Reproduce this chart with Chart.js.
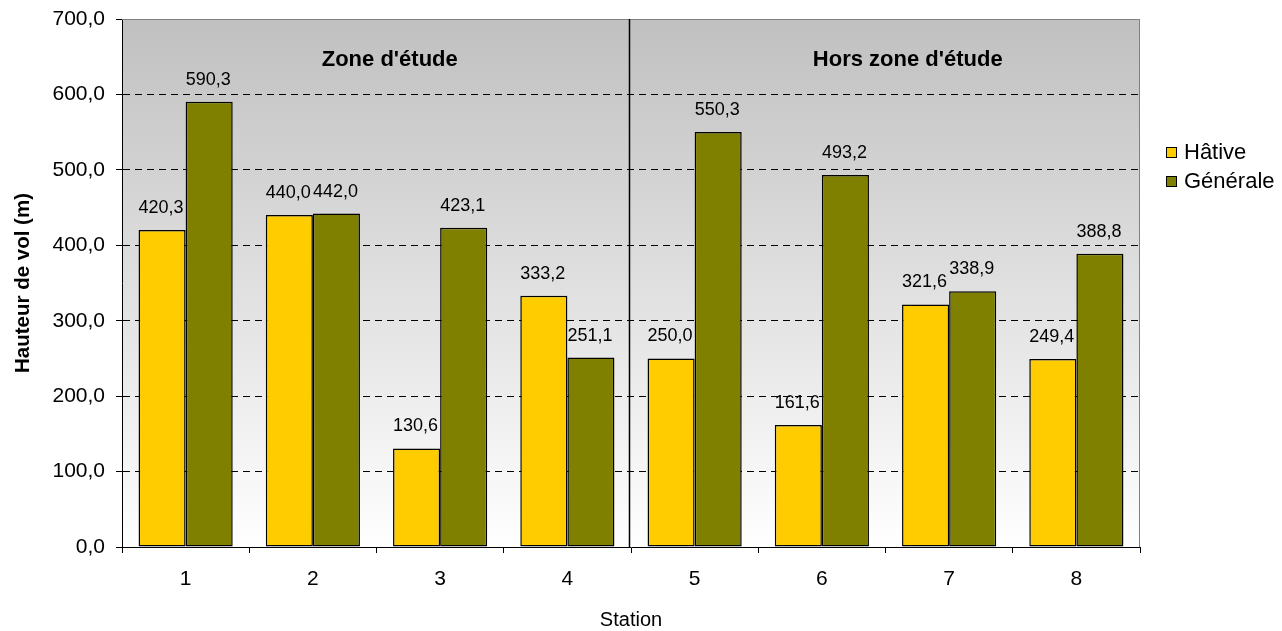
<!DOCTYPE html>
<html>
<head>
<meta charset="utf-8">
<script src="https://cdn.jsdelivr.net/npm/chart.js@4/dist/chart.umd.min.js"></script>
<style>
  body { margin: 0; background: #fff; }
</style>
</head>
<body>
<canvas id="chart" width="1282" height="631"></canvas>
<script>
const stations = ["1", "2", "3", "4", "5", "6", "7", "8"];
const hative = [420.3, 440.0, 130.6, 333.2, 250.0, 161.6, 321.6, 249.4];
const generale = [590.3, 442.0, 423.1, 251.1, 550.3, 493.2, 338.9, 388.8];
const zones = ["Zone d'étude", "Hors zone d'étude"];
const yTicks = [0, 100, 200, 300, 400, 500, 600, 700];

const FONT = "'Liberation Sans', Arial, sans-serif";

function fmt(v) {
    return v.toFixed(1).replace(".", ",");
}

// background gradient, frame, divider, zone titles, value labels, legend
const decor = {
    id: "decor",
    beforeDatasetsDraw(chart) {
        const { ctx, chartArea: a } = chart;
        ctx.save();
        const g = ctx.createLinearGradient(0, a.top, 0, a.bottom);
        g.addColorStop(0, "#c0c0c0");
        g.addColorStop(1, "#ffffff");
        ctx.globalCompositeOperation = "destination-over";
        ctx.fillStyle = g;
        ctx.fillRect(a.left, a.top, a.right - a.left, a.bottom - a.top);
        ctx.restore();
    },
    afterDatasetsDraw(chart) {
        const { ctx, chartArea: a, scales } = chart;
        const x = scales.x;
        ctx.save();
        // frame top and right
        ctx.strokeStyle = "#808080";
        ctx.lineWidth = 1;
        ctx.beginPath();
        ctx.moveTo(a.left, a.top + 0.5);
        ctx.lineTo(a.right - 0.5, a.top + 0.5);
        ctx.lineTo(a.right - 0.5, a.bottom);
        ctx.stroke();

        // divider between zones
        const mid = Math.round((x.getPixelForValue(3) + x.getPixelForValue(4)) / 2) - 1.5;
        ctx.strokeStyle = "#000";
        ctx.lineWidth = 1.5;
        ctx.beginPath();
        ctx.moveTo(mid, a.top);
        ctx.lineTo(mid, a.bottom);
        ctx.stroke();

        // zone titles
        ctx.fillStyle = "#000";
        ctx.font = "bold 22px " + FONT;
        ctx.textAlign = "center";
        ctx.textBaseline = "middle";
        ctx.fillText(zones[0], (a.left + mid) / 2 + 14, 60);
        ctx.fillText(zones[1], (mid + a.right) / 2 + 23, 60);

        // value labels
        ctx.font = "18px " + FONT;
        ctx.textBaseline = "alphabetic";
        chart.data.datasets.forEach((ds, i) => {
            chart.getDatasetMeta(i).data.forEach((bar, j) => {
                ctx.fillText(fmt(ds.data[j]), bar.x - 1, bar.y - 17);
            });
        });

        // legend
        ctx.font = "22px " + FONT;
        ctx.textAlign = "left";
        ctx.textBaseline = "middle";
        chart.data.datasets.forEach((ds, i) => {
            const ly = 153 + i * 29;
            ctx.fillStyle = ds.backgroundColor;
            ctx.fillRect(1166, ly - 6, 11, 11);
            ctx.strokeStyle = "#000";
            ctx.lineWidth = 1;
            ctx.strokeRect(1166.5, ly - 5.5, 10, 10);
            ctx.fillStyle = "#000";
            ctx.fillText(ds.label, 1184, ly);
        });
        ctx.restore();
    }
};

const ctx = document.getElementById("chart").getContext("2d");
const chart = new Chart(ctx, {
    type: "bar",
    data: {
        labels: stations,
        datasets: [
            {
                label: "Hâtive",
                data: hative,
                backgroundColor: "#ffcc00",
                borderColor: "#000",
                borderWidth: 1.5,
                borderSkipped: false
            },
            {
                label: "Générale",
                data: generale,
                backgroundColor: "#808000",
                borderColor: "#000",
                borderWidth: 1.5,
                borderSkipped: false
            }
        ]
    },
    options: {
        responsive: false,
        animation: false,
        layout: { padding: { left: 0, right: 142, top: 19, bottom: 0 } },
        datasets: {
            bar: { categoryPercentage: 0.74, barPercentage: 1 }
        },
        plugins: {
            legend: { display: false },
            tooltip: { enabled: false }
        },
        scales: {
            x: {
                afterFit(scale) {
                    scale.height = 84;
                    scale.paddingLeft = 0;
                    scale.paddingRight = 0;
                },
                grid: {
                    drawOnChartArea: false,
                    color: "#000",
                    tickLength: 6,
                    offset: true
                },
                border: { color: "#000", width: 1 },
                ticks: {
                    color: "#000",
                    font: { family: FONT, size: 21 },
                    padding: 14
                },
                title: {
                    display: true,
                    text: "Station",
                    color: "#000",
                    font: { family: FONT, size: 20, lineHeight: 1 },
                    padding: { top: 0, bottom: 1 }
                }
            },
            y: {
                min: 0,
                max: 700,
                afterFit(scale) {
                    scale.width = 122;
                    scale.paddingTop = 0;
                    scale.paddingBottom = 0;
                },
                afterBuildTicks(scale) {
                    scale.ticks = yTicks.map(v => ({ value: v }));
                },
                grid: {
                    color: c => (c.tick && (c.tick.value === 0 || c.tick.value === 700)) ? "rgba(0,0,0,0)" : "#000",
                    tickColor: "#000",
                    tickLength: 6,
                    tickBorderDash: []
                },
                border: { color: "#000", width: 1, dash: [7, 5] },
                ticks: {
                    color: "#000",
                    font: { family: FONT, size: 21 },
                    padding: 11,
                    callback: v => fmt(v)
                },
                title: {
                    display: true,
                    text: "Hauteur de vol (m)",
                    color: "#000",
                    font: { family: FONT, size: 20.5, weight: "bold" },
                    padding: { top: 11, bottom: 0 }
                }
            }
        }
    },
    plugins: [decor]
});
</script>
</body>
</html>
